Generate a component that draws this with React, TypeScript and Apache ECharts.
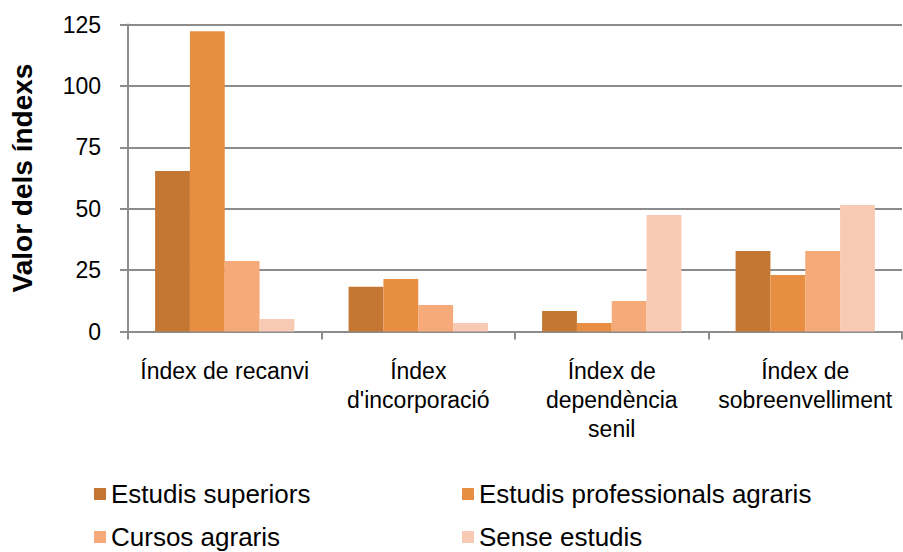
import React, { useEffect, useRef } from "react";
import * as echarts from "echarts";

const categories = [
  "Índex de recanvi",
  "Índex\nd'incorporació",
  "Índex de\ndependència\nsenil",
  "Índex de\nsobreenvelliment",
];
const seriesNames = [
  "Estudis superiors",
  "Estudis professionals agraris",
  "Cursos agraris",
  "Sense estudis",
];
const estudisSuperiors = [65.3, 18.2, 8.3, 32.8];
const estudisProfessionals = [122.3, 21.4, 3.5, 23.0];
const cursosAgraris = [28.7, 10.8, 12.4, 32.8];
const senseEstudis = [5.1, 3.5, 47.4, 51.5];
const yTicks = { min: 0, max: 125, interval: 25 };
const colors = ["#C47633", "#E88E43", "#F7AA79", "#F8CAB3"];
// legend item placement: [left, top]
const legendSpots = [
  [94, 480],
  [462, 480],
  [94, 523],
  [462, 523],
];

const FONT = "'Liberation Sans', Arial, sans-serif";

export default function App() {
  const ref = useRef<HTMLDivElement>(null);
  useEffect(() => {
    if (!ref.current) return;
    const chart = echarts.init(ref.current, null, { renderer: "svg" });
    const values = [estudisSuperiors, estudisProfessionals, cursosAgraris, senseEstudis];
    chart.setOption({
      animation: false,
      backgroundColor: "#ffffff",
      textStyle: { fontFamily: FONT },
      grid: { left: 125, right: 1, top: 24.5, bottom: 220.5, containLabel: false },
      legend: seriesNames.map((name, i) => ({
        data: [name],
        left: legendSpots[i][0],
        top: legendSpots[i][1],
        icon: "rect",
        itemWidth: 12,
        itemHeight: 12,
        padding: 0,
        textStyle: { fontSize: 26, color: "#000", fontFamily: FONT, lineHeight: 28 },
      })),
      xAxis: {
        type: "category",
        data: categories,
        axisLine: { show: true, lineStyle: { color: "#8c8c8c", width: 2 } },
        axisTick: { show: true, length: 8, lineStyle: { color: "#8c8c8c", width: 2 } },
        axisLabel: {
          interval: 0,
          margin: 25,
          fontSize: 23,
          lineHeight: 29,
          color: "#000",
          fontFamily: FONT,
        },
      },
      yAxis: {
        type: "value",
        min: yTicks.min,
        max: yTicks.max,
        interval: yTicks.interval,
        name: "Valor dels índexs",
        nameLocation: "middle",
        nameGap: 92,
        nameTextStyle: { fontSize: 28, fontWeight: "bold", color: "#000", fontFamily: FONT },
        axisLine: { show: true, lineStyle: { color: "#8c8c8c", width: 2 } },
        axisTick: { show: true, length: 8, lineStyle: { color: "#8c8c8c", width: 2 } },
        splitLine: { show: true, lineStyle: { color: "#8c8c8c", width: 2 } },
        axisLabel: { margin: 27, fontSize: 23, color: "#000", fontFamily: FONT },
      },
      series: seriesNames.map((name, i) => ({
        name,
        type: "bar",
        data: values[i],
        barGap: "0%",
        barCategoryGap: "28%",
        itemStyle: { color: colors[i] },
      })),
    });
    return () => chart.dispose();
  }, []);
  return (
    <div
      ref={ref}
      style={{ position: "absolute", left: 0, top: 0, width: 903, height: 552, overflow: "hidden" }}
    />
  );
}
